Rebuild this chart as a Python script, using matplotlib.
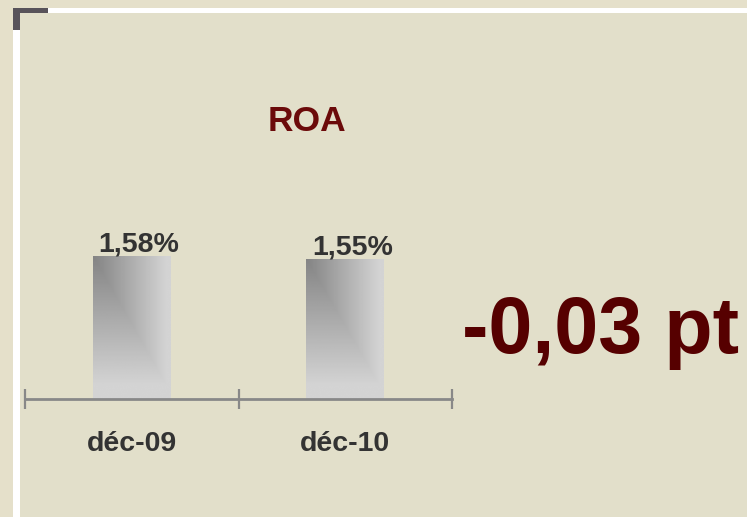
import matplotlib
matplotlib.use('Agg')
import matplotlib.pyplot as plt
from matplotlib.patches import Rectangle
import numpy as np

# DATA
categories = ['déc-09', 'déc-10']
roa_values = [1.58, 1.55]
value_labels = ['1,58%', '1,55%']
title = 'ROA'
delta_text = '-0,03 pt'

W, H = 747, 517
plt.rcParams['font.family'] = ['Liberation Sans', 'DejaVu Sans']
plt.rcParams['font.weight'] = 'bold'

fig = plt.figure(figsize=(W / 100, H / 100), dpi=100)
fig.patch.set_facecolor('#E5E0CA')


def px_rect(x0, y0, x1, y1, color, z=0):
    # pixel box (top-left origin) -> figure rectangle
    r = Rectangle((x0 / W, 1 - y1 / H), (x1 - x0) / W, (y1 - y0) / H,
                  transform=fig.transFigure, facecolor=color, edgecolor='none', zorder=z)
    fig.add_artist(r)


# background panel + frame lines
px_rect(20, 12.5, W, H, '#E2DFCA')
px_rect(48, 8, W, 12.5, '#FFFFFF')
px_rect(13, 30, 20, H, '#FFFFFF')
px_rect(13, 8, 48, 13, '#58535A')
px_rect(13, 8, 20, 30, '#58535A')

# axes: x from 25 to 452 px, baseline at 399 px
ax = fig.add_axes([25 / W, 1 - 399 / H, (452 - 25) / W, 181 / H])
ax.set_facecolor('none')

x = np.arange(len(categories))
bar_w = 0.365
bars = ax.bar(x, roa_values, width=bar_w, color='none', edgecolor='none')

# gradient fill: dark top-left, light toward right and bottom
gx = np.linspace(0, 1, 100)
gy = np.linspace(0, 1, 200)
XX, YY = np.meshgrid(gx, gy)
t = np.clip(np.maximum(XX * 1.05, YY * 1.1), 0, 1)
dark, light = 0x84 / 255, 0xD4 / 255
grad = dark + (light - dark) * t
for b in bars:
    x0, w, h = b.get_x(), b.get_width(), b.get_height()
    im = ax.imshow(grad, cmap='gray', vmin=0, vmax=1, aspect='auto',
                   extent=[x0, x0 + w, 0, h], origin='upper', zorder=2)
    im.set_clip_path(b)

for i, v in enumerate(roa_values):
    ax.annotate(value_labels[i], (x[i], v), xytext=(5, 3), textcoords='offset points',
                ha='center', va='baseline', fontsize=20.5, fontweight='bold', color='#333333')

ax.set_xlim(-0.5, 1.5)
ax.set_ylim(0, 2)

for s in ['top', 'left', 'right']:
    ax.spines[s].set_visible(False)
ax.spines['bottom'].set_color('#888888')
ax.spines['bottom'].set_linewidth(2)
ax.set_yticks([])
ax.set_xticks([-0.5, 0.5, 1.5])
ax.set_xticklabels([])
ax.tick_params(axis='x', which='major', direction='inout', length=14, width=1.6, color='#888888')
ax.set_xticks(x, minor=True)
ax.set_xticklabels(categories, minor=True, fontsize=20.5, fontweight='bold', color='#333333')
ax.tick_params(axis='x', which='minor', length=0, pad=23)

fig.text(307 / W, 1 - 131 / H, title, ha='center', va='baseline',
         fontsize=25.5, fontweight='bold', color='#6B0A0A')
fig.text(600 / W, 1 - 353 / H, delta_text, ha='center', va='baseline',
         fontsize=57, fontweight='bold', color='#560000')

fig.savefig('out.png', dpi=100, facecolor=fig.get_facecolor())
